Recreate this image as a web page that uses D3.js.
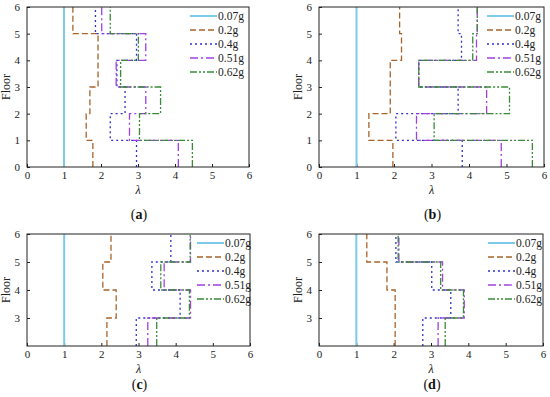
<!DOCTYPE html>
<meta charset="utf-8" />
<title>Floor lambda profiles</title>
<script src="https://d3js.org/d3.v7.min.js"></script>
<style>
  body { margin: 0; background: #fff; }
  svg { display: block; font-family: "Liberation Serif", "Times New Roman", serif; }
</style>
<div id="chart"></div>
<script>
  // legend labels / series
  var seriesNames = ["0.07g", "0.2g", "0.4g", "0.51g", "0.62g"];
  var seriesColors = ["#7cc9ea", "#a8642a", "#3030d0", "#a040e0", "#3a8a3a"];
  var seriesDash = [null, "6,3", "2,3", "8,3,2,3", "7,2,2,2,2,2"];
  var xTicks = [0, 1, 2, 3, 4, 5, 6];

  // values per floor interval, starting at the bottom floor of each panel
  // panel (a), floors 0..6
  var a007 = [1, 1, 1, 1, 1, 1];
  var a02 = [1.78, 1.6, 1.7, 1.92, 1.92, 1.24];
  var a04 = [2.96, 2.25, 2.65, 2.43, 2.96, 1.85];
  var a051 = [4.09, 2.77, 3.21, 2.41, 3.21, 2.02];
  var a062 = [4.47, 3.04, 3.61, 2.53, 3.01, 2.25];

  // panel (b), floors 0..6
  var b007 = [1, 1, 1, 1, 1, 1];
  var b02 = [1.97, 1.33, 1.9, 1.9, 2.2, 2.15];
  var b04 = [3.82, 2.05, 3.71, 2.66, 3.8, 3.71];
  var b051 = [4.86, 2.6, 4.47, 2.66, 4.2, 4.22];
  var b062 = [5.69, 3.07, 5.08, 2.66, 4.1, 4.22];

  // panel (c), floors 2..6
  var c007 = [1, 1, 1, 1];
  var c02 = [2.15, 2.4, 2.04, 2.26];
  var c04 = [2.94, 4.12, 3.36, 3.87];
  var c051 = [3.25, 4.4, 3.69, 4.4];
  var c062 = [3.49, 4.37, 3.6, 4.39];

  // panel (d), floors 2..6
  var d007 = [1, 1, 1, 1];
  var d02 = [2.04, 2.04, 1.82, 1.28];
  var d04 = [2.78, 3.53, 3.02, 2.06];
  var d051 = [3.19, 3.89, 3.31, 2.14];
  var d062 = [3.38, 3.87, 3.26, 2.12];

  var panels = [
    { tag: "a", left: 27, right: 249, top: 7, bottom: 167, floor0: 0,
      series: [a007, a02, a04, a051, a062], legX: 190, legY: 16, capY: 219 },
    { tag: "b", left: 319, right: 544, top: 7, bottom: 167, floor0: 0,
      series: [b007, b02, b04, b051, b062], legX: 487, legY: 16, capY: 219 },
    { tag: "c", left: 27, right: 250, top: 234, bottom: 346, floor0: 2,
      series: [c007, c02, c04, c051, c062], legX: 197, legY: 243, capY: 389 },
    { tag: "d", left: 319, right: 543, top: 234, bottom: 346, floor0: 2,
      series: [d007, d02, d04, d051, d062], legX: 488, legY: 243, capY: 389 }
  ];

  var svg = d3.select("#chart").append("svg")
    .attr("width", 550)
    .attr("height", 397);

  panels.forEach(function (p) {
    var g = svg.append("g");
    var x = d3.scaleLinear().domain([0, 6]).range([p.left, p.right]);
    var y = d3.scaleLinear().domain([p.floor0, 6]).range([p.bottom, p.top]);
    var yTicks = d3.range(p.floor0 === 0 ? 0 : 3, 7);

    // axes with inward ticks
    g.append("g")
      .attr("transform", "translate(0," + p.bottom + ")")
      .call(d3.axisBottom(x).tickValues(xTicks).tickFormat(d3.format("d"))
        .tickSizeInner(-3).tickSizeOuter(0).tickPadding(4))
      .call(function (s) {
        s.select(".domain").remove();
        s.selectAll("text").attr("font-size", 11).attr("fill", "#222")
          .attr("font-family", "Liberation Serif");
        s.selectAll("line").attr("stroke", "#222");
      });
    g.append("g")
      .attr("transform", "translate(" + p.left + ",0)")
      .call(d3.axisLeft(y).tickValues(yTicks).tickFormat(d3.format("d"))
        .tickSizeInner(-3).tickSizeOuter(0).tickPadding(7))
      .call(function (s) {
        s.select(".domain").remove();
        s.selectAll("text").attr("font-size", 11).attr("fill", "#222")
          .attr("font-family", "Liberation Serif");
        s.selectAll("line").attr("stroke", "#222");
      });

    // step profiles
    var line = d3.line().x(function (d) { return x(d[0]); }).y(function (d) { return y(d[1]); });
    p.series.forEach(function (vals, k) {
      var pts = [];
      vals.forEach(function (v, i) {
        pts.push([v, p.floor0 + i]);
        pts.push([v, p.floor0 + i + 1]);
      });
      g.append("path")
        .attr("d", line(pts))
        .attr("fill", "none")
        .attr("stroke", seriesColors[k])
        .attr("stroke-width", k === 0 ? 2 : 1.3)
        .attr("stroke-dasharray", seriesDash[k]);
    });

    // frame
    g.append("rect")
      .attr("x", p.left).attr("y", p.top)
      .attr("width", p.right - p.left).attr("height", p.bottom - p.top)
      .attr("fill", "none").attr("stroke", "#222").attr("stroke-width", 1);

    // legend
    seriesNames.forEach(function (name, k) {
      var ly = p.legY + k * 14;
      g.append("line")
        .attr("x1", p.legX).attr("x2", p.legX + 27)
        .attr("y1", ly).attr("y2", ly)
        .attr("stroke", seriesColors[k])
        .attr("stroke-width", k === 0 ? 2 : 1.3)
        .attr("stroke-dasharray", seriesDash[k]);
      g.append("text")
        .attr("x", p.legX + 28).attr("y", ly + 4)
        .attr("font-size", 11.5).attr("fill", "#222")
        .text(name);
    });

    // axis titles
    g.append("text")
      .attr("x", (p.left + p.right) / 2).attr("y", p.bottom + 27)
      .attr("text-anchor", "middle").attr("font-size", 12)
      .attr("font-style", "italic").attr("fill", "#222")
      .text("λ");
    g.append("text")
      .attr("transform", "translate(" + (p.left - 17) + "," + ((p.top + p.bottom) / 2) + ") rotate(-90)")
      .attr("text-anchor", "middle").attr("font-size", 12).attr("fill", "#222")
      .text("Floor");

    // caption
    var cap = g.append("text")
      .attr("x", (p.left + p.right) / 2 + 1).attr("y", p.capY)
      .attr("text-anchor", "middle").attr("font-size", 14).attr("fill", "#111");
    cap.append("tspan").text("(");
    cap.append("tspan").attr("font-weight", "bold").text(p.tag);
    cap.append("tspan").text(")");
  });
</script>
